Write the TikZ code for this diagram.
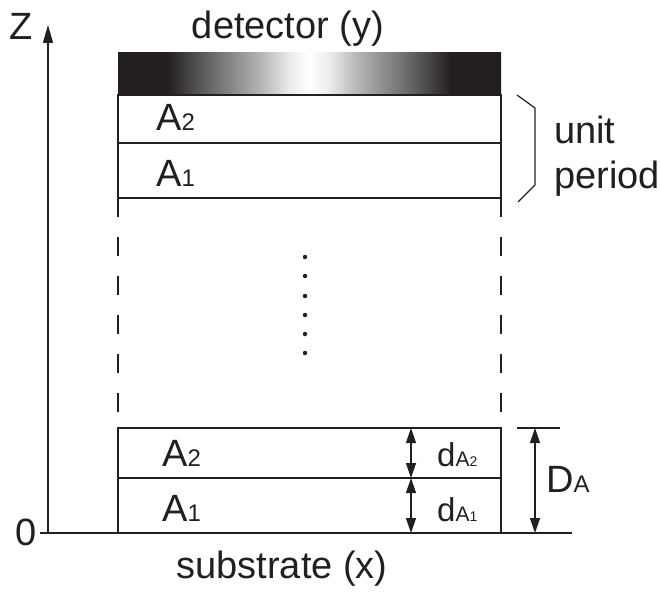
\documentclass[tikz,border=0pt]{standalone}
\usepackage{fontspec}
\setmainfont{Liberation Sans}
\usetikzlibrary{arrows.meta}
\definecolor{ink}{HTML}{231F20}
\definecolor{gmid}{HTML}{6E6D6E}
\definecolor{glight}{HTML}{B9B9BA}
\definecolor{gpale}{HTML}{EDEDED}
% dark edges fading to a bright centre across the detector
% (TikZ maps the 25bp--75bp band of a shading onto the filled path)
\pgfdeclarehorizontalshading{detshade}{100bp}{color(0bp)=(ink); color(31.5bp)=(ink); color(37.5bp)=(gmid); color(44bp)=(glight); color(47.5bp)=(gpale); color(50bp)=(white); color(52.5bp)=(gpale); color(56bp)=(glight); color(62.5bp)=(gmid); color(68.5bp)=(ink); color(100bp)=(ink)}
\newcommand{\bigtxt}{\fontsize{38}{40}\selectfont}
\newcommand{\subtxt}[1]{{\fontsize{24}{24}\selectfont #1}}
\begin{document}
\begin{tikzpicture}[x=1pt,y=-1pt,
  lbl/.style={inner sep=0pt, font=\bigtxt, text=ink},
  layer/.style={draw=ink, line width=1.5pt},
  axisline/.style={draw=ink, line width=1.2pt},
  dim/.style={draw=ink, line width=1.2pt, {Triangle[length=15pt,width=10pt]}-{Triangle[length=15pt,width=10pt]}},
  dot/.style={circle, fill=ink, inner sep=0pt, minimum size=4.5pt}]
\useasboundingbox (0,0) rectangle (660,594);

% axes
\coordinate (orig) at (40,533);
\coordinate (zbase) at (48,533);
\coordinate (ztop) at (48,25);
\coordinate (baseR) at (572,533);
\draw[axisline, -{Triangle[length=18pt,width=10pt]}] (zbase) -- (ztop);
\draw[axisline] (orig) -- (baseR);
\node[lbl] (zlab) at (21,26) {Z};
\node[lbl] (olab) at (26,532) {0};

% detector
\shade[shading=detshade] (118,52) rectangle (501,95);
\node[lbl] (det) at (288,29) {detector (y)};

% upper unit period
\coordinate (U2L) at (118,95);  \coordinate (U2R) at (501,95);
\coordinate (U1L) at (118,143); \coordinate (U1R) at (501,143);
\coordinate (U0L) at (118,198); \coordinate (U0R) at (501,198);
\draw[layer] (U2L) rectangle (U0R);
\draw[layer] (U1L) -- (U1R);
\node[lbl, anchor=base west] (a2u) at (156,130) {A\subtxt{2}};
\node[lbl, anchor=base west] (a1u) at (156,186) {A\subtxt{1}};

% lower unit period on the substrate
\coordinate (L2L) at (118,428); \coordinate (L2R) at (501,428);
\coordinate (L1L) at (118,478); \coordinate (L1R) at (501,478);
\coordinate (L0L) at (118,533); \coordinate (L0R) at (501,533);
\draw[layer] (L0L) -- (L2L) -- (L2R) -- (L0R);
\draw[layer] (L1L) -- (L1R);
\node[lbl, anchor=base west] (a2l) at (162,466) {A\subtxt{2}};
\node[lbl, anchor=base west] (a1l) at (162,521) {A\subtxt{1}};

% omitted periods
\draw[layer, dash pattern=on 19pt off 20pt] (U0L) -- (L2L);
\draw[layer, dash pattern=on 19pt off 20pt] (U0R) -- (L2R);
\foreach \i/\yy in {1/257,2/276,3/296,4/315,5/334,6/353}
  \node[dot] (dot\i) at (305,\yy) {};

% unit period bracket
\coordinate (b1) at (517,95);
\coordinate (b2) at (535,108);
\coordinate (b3) at (535,185);
\coordinate (b4) at (518,202);
\draw[axisline] (b1) -- (b2) -- (b3) -- (b4);
\node[lbl, anchor=base west] (unit) at (554,143) {unit};
\node[lbl, anchor=base west] (period) at (554,188) {period};

% layer thicknesses
\coordinate (d2t) at (411,428);
\coordinate (d2b) at (411,478);
\coordinate (d1b) at (411,533);
\draw[dim] (d2t) -- (d2b);
\draw[dim] (d2b) -- (d1b);
\node[lbl, anchor=base west] (dA2) at (437,466) {\fontsize{33}{33}\selectfont d{\fontsize{21}{21}\selectfont A}{\fontsize{14}{14}\selectfont 2}};
\node[lbl, anchor=base west] (dA1) at (437,521) {\fontsize{33}{33}\selectfont d{\fontsize{21}{21}\selectfont A}{\fontsize{14}{14}\selectfont 1}};

% period thickness
\coordinate (DAt) at (535,428);
\coordinate (DAb) at (535,533);
\coordinate (tickL) at (517,428);
\coordinate (tickR) at (560,428);
\draw[axisline] (tickL) -- (tickR);
\draw[dim] (DAt) -- (DAb);
\node[lbl, anchor=base west] (DA) at (546,492) {D{\fontsize{24}{24}\selectfont A}};

% substrate
\node[lbl] (sub) at (282,569) {substrate (x)};
\end{tikzpicture}
\end{document}
